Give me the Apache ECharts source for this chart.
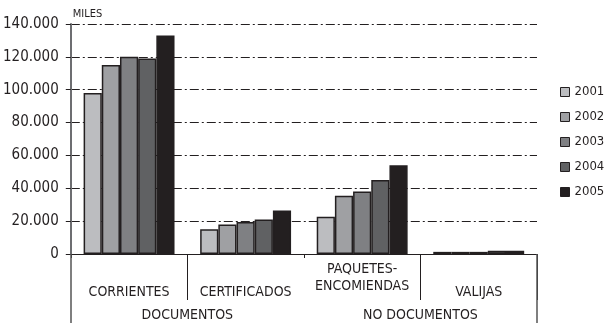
<!DOCTYPE html>
<html><head><meta charset="utf-8">
<script src="https://cdn.jsdelivr.net/npm/echarts@6/dist/echarts.min.js"></script>
<style>html,body{margin:0;padding:0;background:#fff}#c{width:606px;height:323px}</style>
</head><body><div id="c"></div>
<script>
const categories = ['CORRIENTES', 'CERTIFICADOS', 'PAQUETES-\nENCOMIENDAS', 'VALIJAS'];
const groups = ['DOCUMENTOS', 'NO DOCUMENTOS'];
const years = ['2001', '2002', '2003', '2004', '2005'];
const v2001 = [98000, 15000, 22700, 1300];
const v2002 = [115000, 18000, 35500, 1300];
const v2003 = [120000, 19500, 38000, 1300];
const v2004 = [119000, 21000, 45000, 2000];
const v2005 = [133000, 26500, 54000, 2000];
const yTicks = [0, 20000, 40000, 60000, 80000, 100000, 120000, 140000];

const values = [v2001, v2002, v2003, v2004, v2005];
const colors = ['#bcbdc0', '#9fa0a3', '#7f8083', '#606163', '#231f20'];
const FONT = "'Liberation Sans Narrow', 'DejaVu Sans Condensed', sans-serif";
const TXT = '#231f20';

const chart = echarts.init(document.getElementById('c'), null, {renderer: 'canvas'});
const fmt = v => v === 0 ? '0' : String(v).replace(/\B(?=(\d{3})+(?!\d))/g, '.');

const option = {
  animation: false,
  backgroundColor: '#fff',
  grid: {left: 70, right: 69, top: 24, bottom: 69, containLabel: false},
  legend: {
    orient: 'vertical', left: 555, top: 80,
    itemWidth: 9, itemHeight: 9, itemGap: 11,
    icon: 'rect',
    itemStyle: {borderColor: '#231f20', borderWidth: 1},
    textStyle: {fontFamily: FONT, fontSize: 13, color: TXT, lineHeight: 14},
    data: years
  },
  xAxis: [
    {
      type: 'category', data: categories, position: 'bottom',
      axisLine: {show: true, lineStyle: {color: '#231f20', width: 1}},
      axisTick: {show: true, length: 4, lineStyle: {color: '#231f20'}},
      axisLabel: {
        interval: 0, margin: 38, verticalAlign: 'middle',
        fontFamily: FONT, fontSize: 14, color: TXT, lineHeight: 17,
        formatter: function (v) {
          if (v.indexOf('\n') < 0) return v;
          const parts = v.split('\n');
          return '{p|' + parts[0] + '}\n{p|' + parts[1] + '}\n{e| }';
        },
        rich: {
          p: {fontFamily: FONT, fontSize: 14, color: TXT, lineHeight: 17},
          e: {fontFamily: FONT, fontSize: 10, color: TXT, lineHeight: 28}
        }
      },
      splitLine: {show: false}
    },
    {
      type: 'category', data: categories, position: 'bottom',
      axisLine: {show: false},
      axisTick: {show: true, length: 46, interval: function (i) { return i === 1 || i === 3; }, lineStyle: {color: '#231f20', width: 1}},
      axisLabel: {show: false},
      splitLine: {show: false}
    },
    {
      type: 'category', data: groups, position: 'bottom',
      axisLine: {show: false},
      axisTick: {show: true, length: 75, interval: function (i) { return i === 0; }, lineStyle: {color: '#555', width: 1.5}},
      axisLabel: {interval: 0, margin: 61, verticalAlign: 'middle', fontFamily: FONT, fontSize: 14, color: TXT},
      splitLine: {show: false}
    }
  ],
  yAxis: {
    type: 'value', min: 0, max: 140000, interval: 20000,
    name: 'MILES', nameLocation: 'end', nameGap: 4,
    nameTextStyle: {align: 'left', fontFamily: FONT, fontSize: 11, color: TXT, padding: [0, 0, 0, 2]},
    axisLine: {show: true, lineStyle: {color: '#6d6e71', width: 2}},
    axisTick: {show: true, length: 5, lineStyle: {color: '#231f20'}},
    axisLabel: {margin: 12, fontFamily: FONT, fontSize: 15, color: TXT, formatter: fmt},
    splitLine: {show: true, lineStyle: {color: '#231f20', width: 1, type: [9, 3, 2, 3]}}
  },
  series: years.map((y, i) => ({
    name: y, type: 'bar', xAxisIndex: 0,
    data: values[i],
    barGap: '0%', barCategoryGap: '22%',
    itemStyle: {color: colors[i], borderColor: '#231f20', borderWidth: 1.5}
  }))
};
chart.setOption(option);
</script></body></html>
